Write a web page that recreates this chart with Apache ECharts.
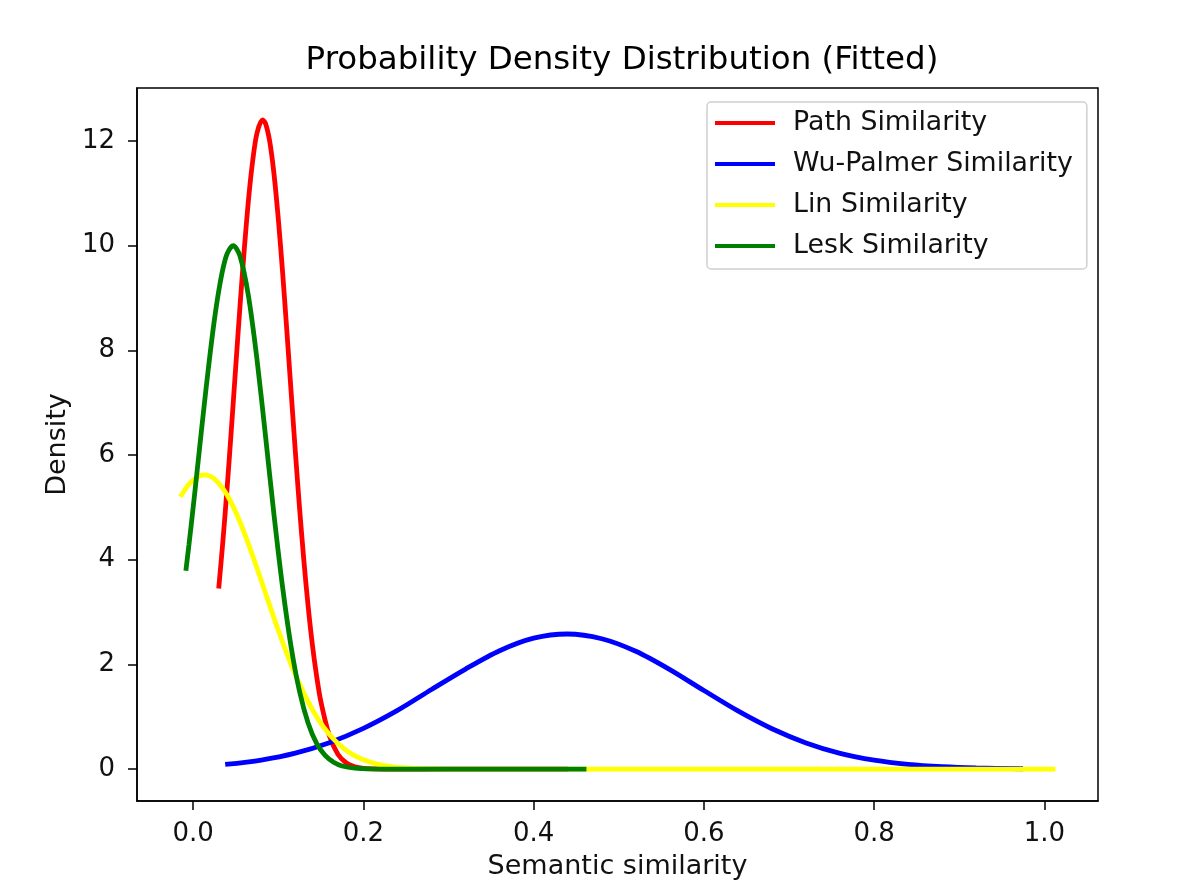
<!DOCTYPE html>
<html>
<head>
<meta charset="utf-8">
<script src="https://cdn.jsdelivr.net/npm/echarts@6/dist/echarts.min.js"></script>
<style>
  html, body { margin: 0; padding: 0; background: #fff; }
  #chart { width: 1196px; height: 885px; }
</style>
</head>
<body>
<div id="chart"></div>
<script>
// values
let seriesNames = ['Path Similarity', 'Wu-Palmer Similarity', 'Lin Similarity', 'Lesk Similarity'];
let xTicks = [0, 0.2, 0.4, 0.6, 0.8, 1.0];
let yTicks = [0, 2, 4, 6, 8, 10, 12];

let pathX = [0.030, 0.035, 0.040, 0.045, 0.050, 0.055, 0.060, 0.065, 0.070, 0.075, 0.0815, 0.085, 0.090, 0.095, 0.100, 0.105, 0.110, 0.115, 0.120, 0.125, 0.130, 0.135, 0.140, 0.145, 0.150, 0.160, 0.170, 0.180, 0.190, 0.200, 0.220, 0.250, 0.440];
let pathY = [3.45, 4.37, 5.40, 6.52, 7.69, 8.84, 9.92, 10.88, 11.63, 12.15, 12.40, 12.33, 11.98, 11.36, 10.51, 9.50, 8.38, 7.22, 6.07, 4.98, 3.99, 3.12, 2.38, 1.78, 1.29, 0.635, 0.284, 0.115, 0.042, 0.014, 0.001, 0, 0];

let wupX = [0.0376, 0.08, 0.12, 0.16, 0.20, 0.24, 0.28, 0.32, 0.36, 0.40, 0.4395, 0.48, 0.52, 0.56, 0.60, 0.64, 0.68, 0.72, 0.76, 0.80, 0.84, 0.88, 0.92, 0.975];
let wupY = [0.088, 0.173, 0.305, 0.503, 0.777, 1.12, 1.52, 1.91, 2.26, 2.50, 2.58, 2.49, 2.25, 1.90, 1.50, 1.11, 0.77, 0.50, 0.30, 0.17, 0.090, 0.045, 0.021, 0.006];

let linX = [-0.015, -0.005, 0.005, 0.013, 0.025, 0.040, 0.055, 0.070, 0.085, 0.100, 0.115, 0.130, 0.145, 0.160, 0.175, 0.190, 0.210, 0.230, 0.250, 0.280, 0.320, 0.400, 0.600, 0.800, 1.013];
let linY = [5.20, 5.44, 5.58, 5.62, 5.54, 5.23, 4.72, 4.07, 3.36, 2.65, 2.00, 1.45, 1.00, 0.66, 0.42, 0.25, 0.12, 0.053, 0.021, 0.005, 0.0003, 0, 0, 0, 0];

let leskX = [-0.0086, -0.005, 0.000, 0.005, 0.010, 0.015, 0.020, 0.025, 0.030, 0.035, 0.040, 0.047, 0.055, 0.065, 0.075, 0.085, 0.095, 0.105, 0.115, 0.125, 0.135, 0.145, 0.155, 0.165, 0.175, 0.190, 0.210, 0.250, 0.462];
let leskY = [3.79, 4.28, 5.00, 5.75, 6.51, 7.25, 7.95, 8.59, 9.13, 9.56, 9.85, 10.00, 9.80, 9.03, 7.82, 6.36, 4.85, 3.48, 2.34, 1.48, 0.88, 0.49, 0.26, 0.13, 0.058, 0.016, 0.002, 0, 0];

let colors = ['#ff0000', '#0000ff', '#ffff00', '#008000'];

function pairs(xs, ys) {
    return xs.map((x, i) => [x, ys[i]]);
}

let myChart = echarts.init(document.getElementById('chart'));
let font = 'DejaVu Sans';

let option = {
    animation: false,
    backgroundColor: '#fff',
    title: {
        text: 'Probability Density Distribution (Fitted)',
        left: 617,
        textAlign: 'center',
        top: 39,
        textStyle: { fontFamily: font, fontSize: 32.5, fontWeight: 'normal', color: '#000' }
    },
    legend: {
        data: seriesNames,
        orient: 'vertical',
        left: 707,
        top: 102,
        icon: 'rect',
        itemWidth: 60,
        itemHeight: 4,
        itemGap: 11,
        padding: [6, 14, 8, 8],
        borderColor: '#d0d0d0',
        borderWidth: 1.5,
        borderRadius: 4,
        backgroundColor: 'rgba(255,255,255,0.8)',
        textStyle: { fontFamily: font, fontSize: 26.8, color: '#111', padding: [0, 0, 0, 13], lineHeight: 30 }
    },
    grid: {
        left: 137, right: 98, top: 88, bottom: 82,
        show: true, borderColor: '#000', borderWidth: 1.5
    },
    xAxis: {
        type: 'value',
        min: -0.066,
        max: 1.063,
        name: 'Semantic similarity',
        nameLocation: 'middle',
        nameGap: 52,
        nameTextStyle: { fontFamily: font, fontSize: 27, color: '#111' },
        axisLine: { onZero: false, lineStyle: { color: '#000', width: 1.5 } },
        axisTick: { customValues: xTicks, length: 9, lineStyle: { color: '#000', width: 1.5 } },
        axisLabel: {
            customValues: xTicks,
            margin: 20,
            fontFamily: font, fontSize: 26, color: '#111',
            formatter: v => v.toFixed(1)
        },
        splitLine: { show: false }
    },
    yAxis: {
        type: 'value',
        min: -0.61,
        max: 13.01,
        name: 'Density',
        nameLocation: 'middle',
        nameGap: 64,
        nameTextStyle: { fontFamily: font, fontSize: 27, color: '#111' },
        axisLine: { show: true, onZero: false, lineStyle: { color: '#000', width: 1.5 } },
        axisTick: { show: true, customValues: yTicks, length: 9, lineStyle: { color: '#000', width: 1.5 } },
        axisLabel: {
            customValues: yTicks,
            margin: 22,
            fontFamily: font, fontSize: 26, color: '#111'
        },
        splitLine: { show: false }
    },
    series: [
        { name: seriesNames[0], data: pairs(pathX, pathY) },
        { name: seriesNames[1], data: pairs(wupX, wupY) },
        { name: seriesNames[2], data: pairs(linX, linY) },
        { name: seriesNames[3], data: pairs(leskX, leskY) }
    ].map((s, i) => ({
        name: s.name,
        type: 'line',
        data: s.data,
        symbol: 'none',
        smooth: 0.3,
        color: colors[i],
        lineStyle: { color: colors[i], width: 4.8 }
    }))
};
myChart.setOption(option);
</script>
</body>
</html>
